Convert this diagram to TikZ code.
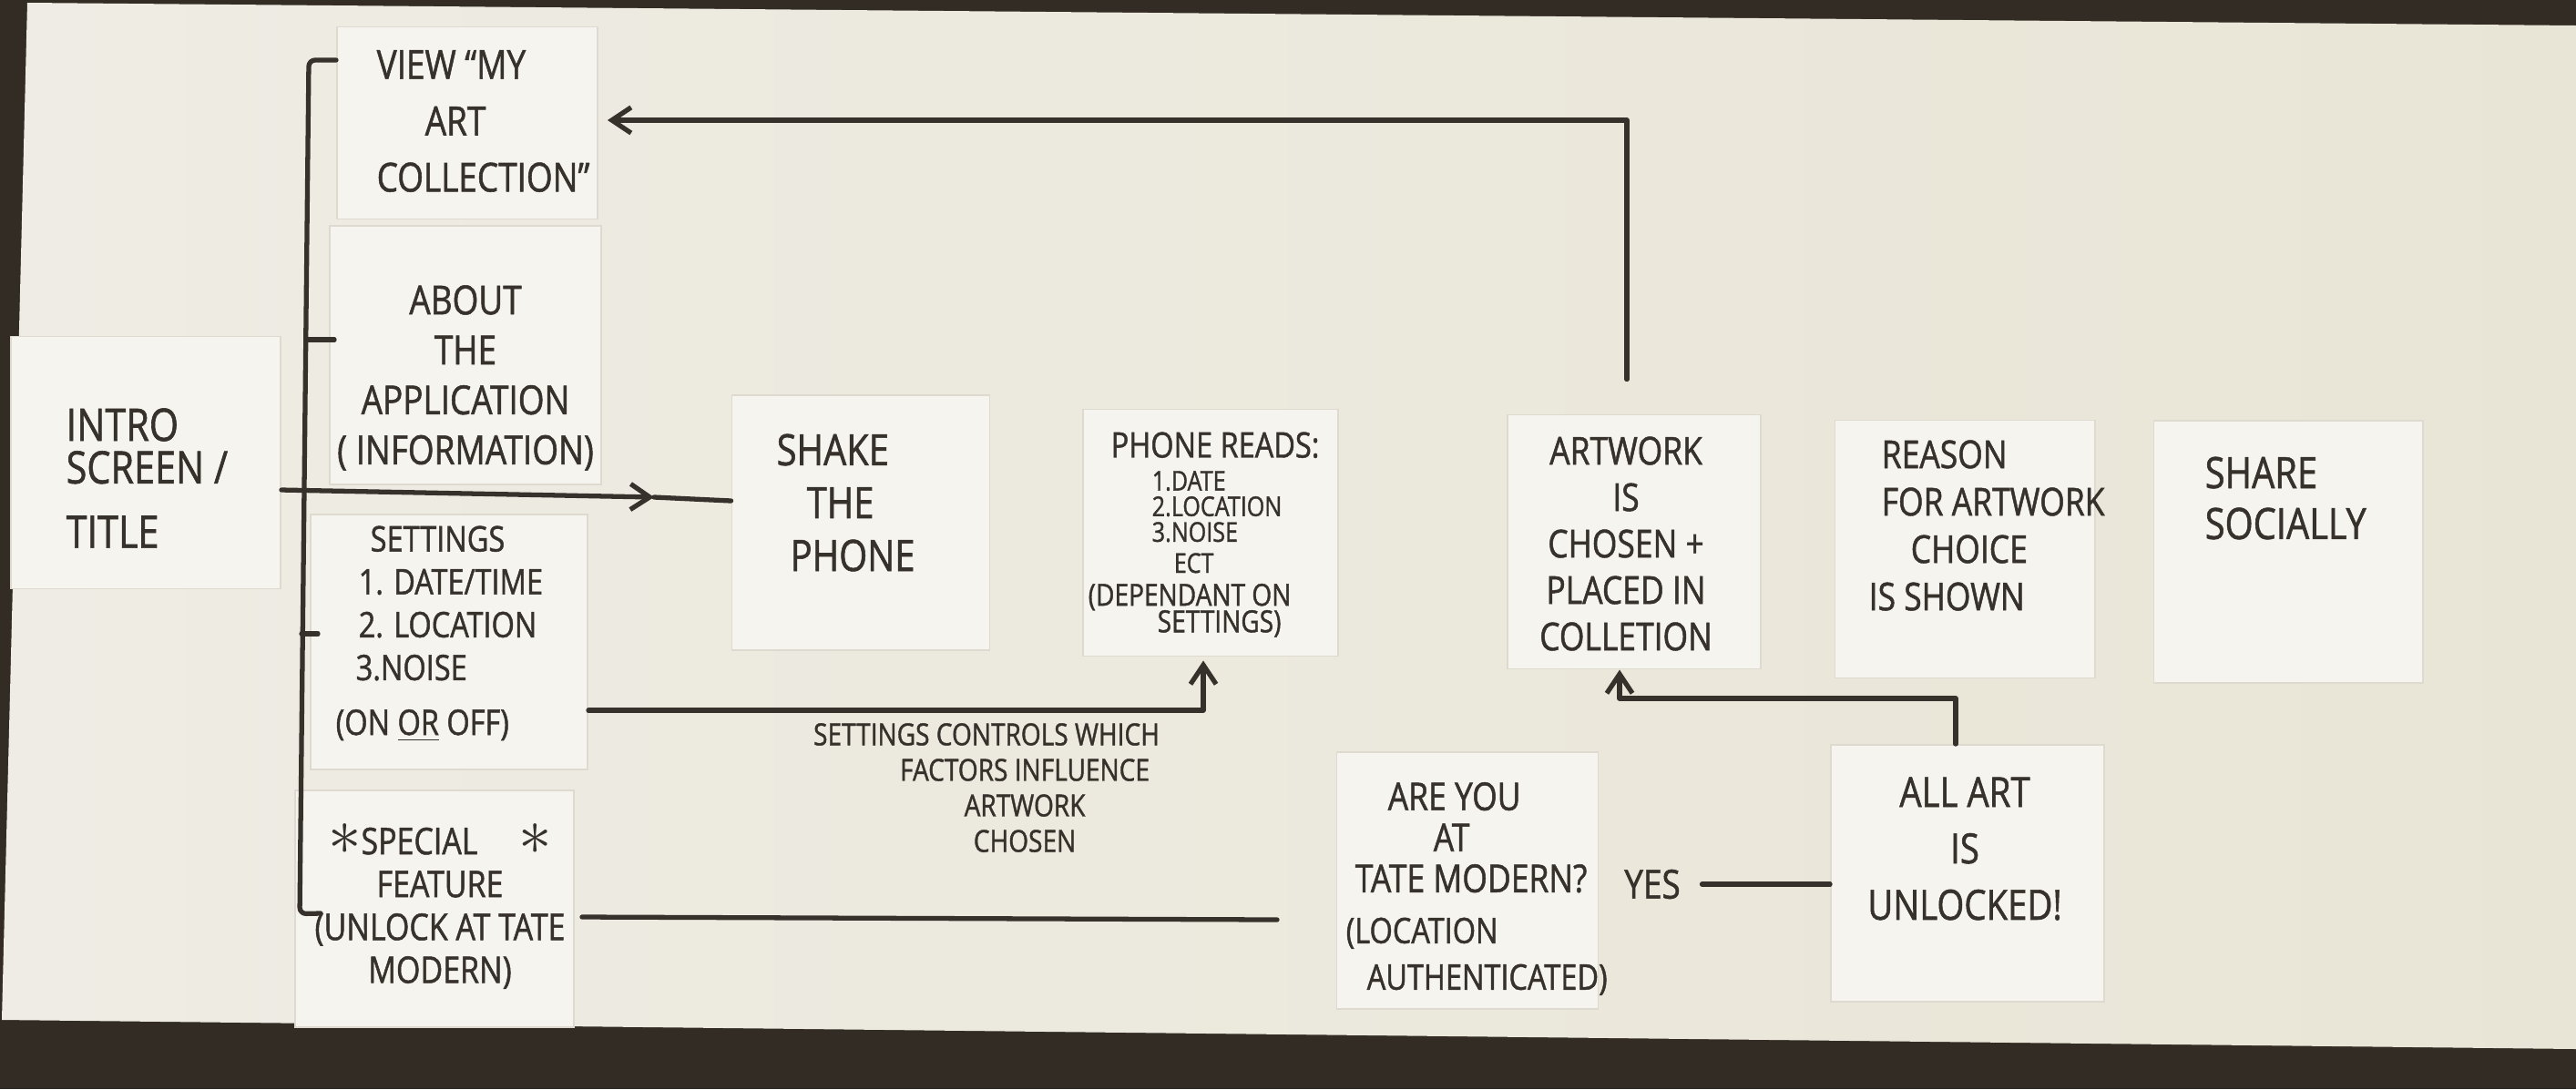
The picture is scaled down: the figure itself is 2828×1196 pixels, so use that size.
\documentclass[tikz,border=0pt]{standalone}
\usepackage{fontspec}
\setmainfont{Open Sans}[FakeStretch=0.84, FakeBold=1.2]
\usetikzlibrary{arrows.meta,positioning}
\definecolor{BoardDark}{RGB}{50,44,36}
\definecolor{PaperL}{RGB}{238,236,228}
\definecolor{PaperR}{RGB}{233,229,214}
\definecolor{NoteW}{RGB}{245,244,239}
\definecolor{NoteEdge}{RGB}{222,218,207}
\definecolor{Ink}{RGB}{55,49,44}
\setlength{\lineskiplimit}{-30pt}

\tikzset{
  sticky/.style={rectangle, fill=NoteW, draw=NoteEdge, line width=0.5pt, inner sep=0pt},
  hand/.style={text=Ink, inner sep=0pt, align=center, font=\fontsize{12}{15}\selectfont},
  wire/.style={draw=Ink, line width=1.5pt, line cap=round, line join=round},
}

\begin{document}
\begin{tikzpicture}[x=0.01cm, y=-0.01cm, >={Straight Barb[length=6pt,width=8pt]}]
  % board and paper sheet
  \useasboundingbox (0,0) rectangle (2828,1196);
  \fill[BoardDark] (0,0) rectangle (2828,1196);
  \shade[left color=PaperL, right color=PaperR] (30,3) -- (2828,28) -- (2828,1152) -- (2,1120) -- cycle;

  % sticky notes
  \node[sticky, minimum width=2.96cm, minimum height=2.77cm] (intro) at (160,508) {};
  \node[sticky, minimum width=2.86cm, minimum height=2.11cm] (view) at (513,135) {};
  \node[sticky, minimum width=2.98cm, minimum height=2.84cm] (about) at (511,390) {};
  \node[sticky, minimum width=3.04cm, minimum height=2.80cm] (settings) at (493,705) {};
  \node[sticky, minimum width=3.06cm, minimum height=2.60cm] (special) at (477,998) {};
  \node[sticky, minimum width=2.83cm, minimum height=2.80cm] (shake) at (945,574) {};
  \node[sticky, minimum width=2.80cm, minimum height=2.71cm] (phone) at (1329,585) {};
  \node[sticky, minimum width=2.78cm, minimum height=2.79cm] (artwork) at (1794,595) {};
  \node[sticky, minimum width=2.85cm, minimum height=2.83cm] (reason) at (2157,603) {};
  \node[sticky, minimum width=2.95cm, minimum height=2.88cm] (share) at (2512,606) {};
  \node[sticky, minimum width=2.87cm, minimum height=2.82cm] (tate) at (1611,967) {};
  \node[sticky, minimum width=3.00cm, minimum height=2.82cm] (unlocked) at (2160,959) {};

  % handwriting on the notes
  \node[hand, anchor=west, align=left, font=\fontsize{14}{13.3}\selectfont] (introtxt) at (72,525)
    {INTRO\\SCREEN /\\[0.24cm]TITLE};
  \node[hand, anchor=west, align=left, font=\fontsize{12.5}{17.6}\selectfont] (viewtxt) at (413,133)
    {VIEW “MY\\\hspace*{0.53cm}ART\\COLLECTION”};
  \node[hand, font=\fontsize{12.5}{15.6}\selectfont] (abouttxt) at (511,415)
    {ABOUT\\THE\\APPLICATION\\( INFORMATION)};
  \node[hand, anchor=west, align=left, font=\fontsize{11}{13.4}\selectfont] (settingstxt) at (368,696)
    {\hspace*{0.38cm}SETTINGS\\\hspace*{0.25cm}1. DATE/TIME\\\hspace*{0.25cm}2. LOCATION\\\hspace*{0.22cm}3.NOISE\\[0.13cm](ON \underline{OR} OFF)};
  \node[hand, font=\fontsize{11.5}{13.4}\selectfont] (specialtxt) at (483,995)
    {{\fontsize{20}{20}\selectfont$\ast$}SPECIAL\hspace{0.45cm}{\fontsize{20}{20}\selectfont$\ast$}\\FEATURE\\(UNLOCK AT TATE\\MODERN)};
  \node[hand, anchor=west, align=left, font=\fontsize{13.5}{16.5}\selectfont] (shaketxt) at (852,552)
    {SHAKE\\\hspace*{0.33cm}THE\\\hspace*{0.15cm}PHONE};
  \node[hand, anchor=west, align=left, font=\fontsize{8.5}{8}\selectfont] (phonetxt) at (1194,587)
    {\hspace*{0.25cm}{\fontsize{11}{11}\selectfont PHONE READS:}\\[0.08cm]
     \hspace*{0.70cm}1.DATE\\\hspace*{0.70cm}2.LOCATION\\\hspace*{0.70cm}3.NOISE\\[0.06cm]
     \hspace*{0.94cm}ECT\\[0.08cm]{\fontsize{9.5}{9.5}\selectfont (DEPENDANT ON}\\[0.01cm]
     \hspace*{0.76cm}{\fontsize{9.5}{9.5}\selectfont SETTINGS)}};
  \node[hand, font=\fontsize{12}{14.5}\selectfont] (artworktxt) at (1785,597)
    {ARTWORK\\IS\\CHOSEN +\\PLACED IN\\COLLETION};
  \node[hand, anchor=west, align=left, font=\fontsize{12}{14.8}\selectfont] (reasontxt) at (2051,577)
    {\hspace*{0.14cm}REASON\\\hspace*{0.14cm}FOR ARTWORK\\\hspace*{0.46cm}CHOICE\\IS SHOWN};
  \node[hand, anchor=west, align=left, font=\fontsize{13.5}{15.9}\selectfont] (sharetxt) at (2420,547)
    {SHARE\\SOCIALLY};
  \node[hand, anchor=west, align=left, font=\fontsize{12}{12.8}\selectfont] (tatetxt) at (1477,976)
    {\hspace*{0.46cm}ARE YOU\\\hspace*{0.96cm}AT\\\hspace*{0.10cm}TATE MODERN?\\[0.11cm]
     {\fontsize{11}{11}\selectfont(LOCATION}\\[0.06cm]\hspace*{0.23cm}{\fontsize{11}{11}\selectfont AUTHENTICATED)}};
  \node[hand, font=\fontsize{13}{17.6}\selectfont] (unlockedtxt) at (2157,932)
    {ALL ART\\IS\hspace*{0.7cm}\\UNLOCKED!};
  \node[hand, font=\fontsize{12.5}{15}\selectfont] (yes) at (1814,971) {YES};
  \node[hand, font=\fontsize{9.5}{11.1}\selectfont] (ctrlnote) at (1083,865)
    {SETTINGS CONTROLS WHICH\\\hspace*{0.84cm}FACTORS INFLUENCE\\\hspace*{0.84cm}ARTWORK\\\hspace*{0.84cm}CHOSEN};

  % bracket from the intro screen
  \draw[wire, rounded corners=2pt] ([yshift=0.69cm]view.west) -- ++(-0.3cm,0) coordinate (spinetop)
    -- ++(-0.1cm,-9.37cm) coordinate (spinebot) -- ([xshift=0.29cm,yshift=-0.05cm]special.west);
  \draw[wire] ([xshift=0.06cm,yshift=0.17cm]about.west) -- ++(-0.3cm,0);
  \draw[wire] ([xshift=0.09cm,yshift=0.09cm]settings.west) -- ++(-0.18cm,0);

  % main flow
  \coordinate (shakebarb) at (718,546);
  \draw[wire,->] ([yshift=-0.3cm]intro.east) -- (shakebarb);
  \draw[wire] (shakebarb) -- ([yshift=0.24cm]shake.west);
  \draw[wire,->] ([yshift=-0.75cm]settings.east) -| ([xshift=-0.08cm,yshift=-0.04cm]phone.south);
  \draw[wire,->] ([xshift=-0.08cm,yshift=0.38cm]artwork.north) |- ([xshift=0.1cm,yshift=0.03cm]view.east);

  % special feature branch
  \coordinate (tateend) at (1402,1010);
  \draw[wire] ([xshift=0.08cm,yshift=-0.09cm]special.east) -- (tateend);
  \draw[wire] ([xshift=0.23cm]yes.east) -- (yes.east -| unlocked.west);
  \draw[wire,->] ([xshift=-0.13cm]unlocked.north) -- ++(0,0.5cm) -| ([xshift=-0.16cm]artwork.south);
\end{tikzpicture}
\end{document}
